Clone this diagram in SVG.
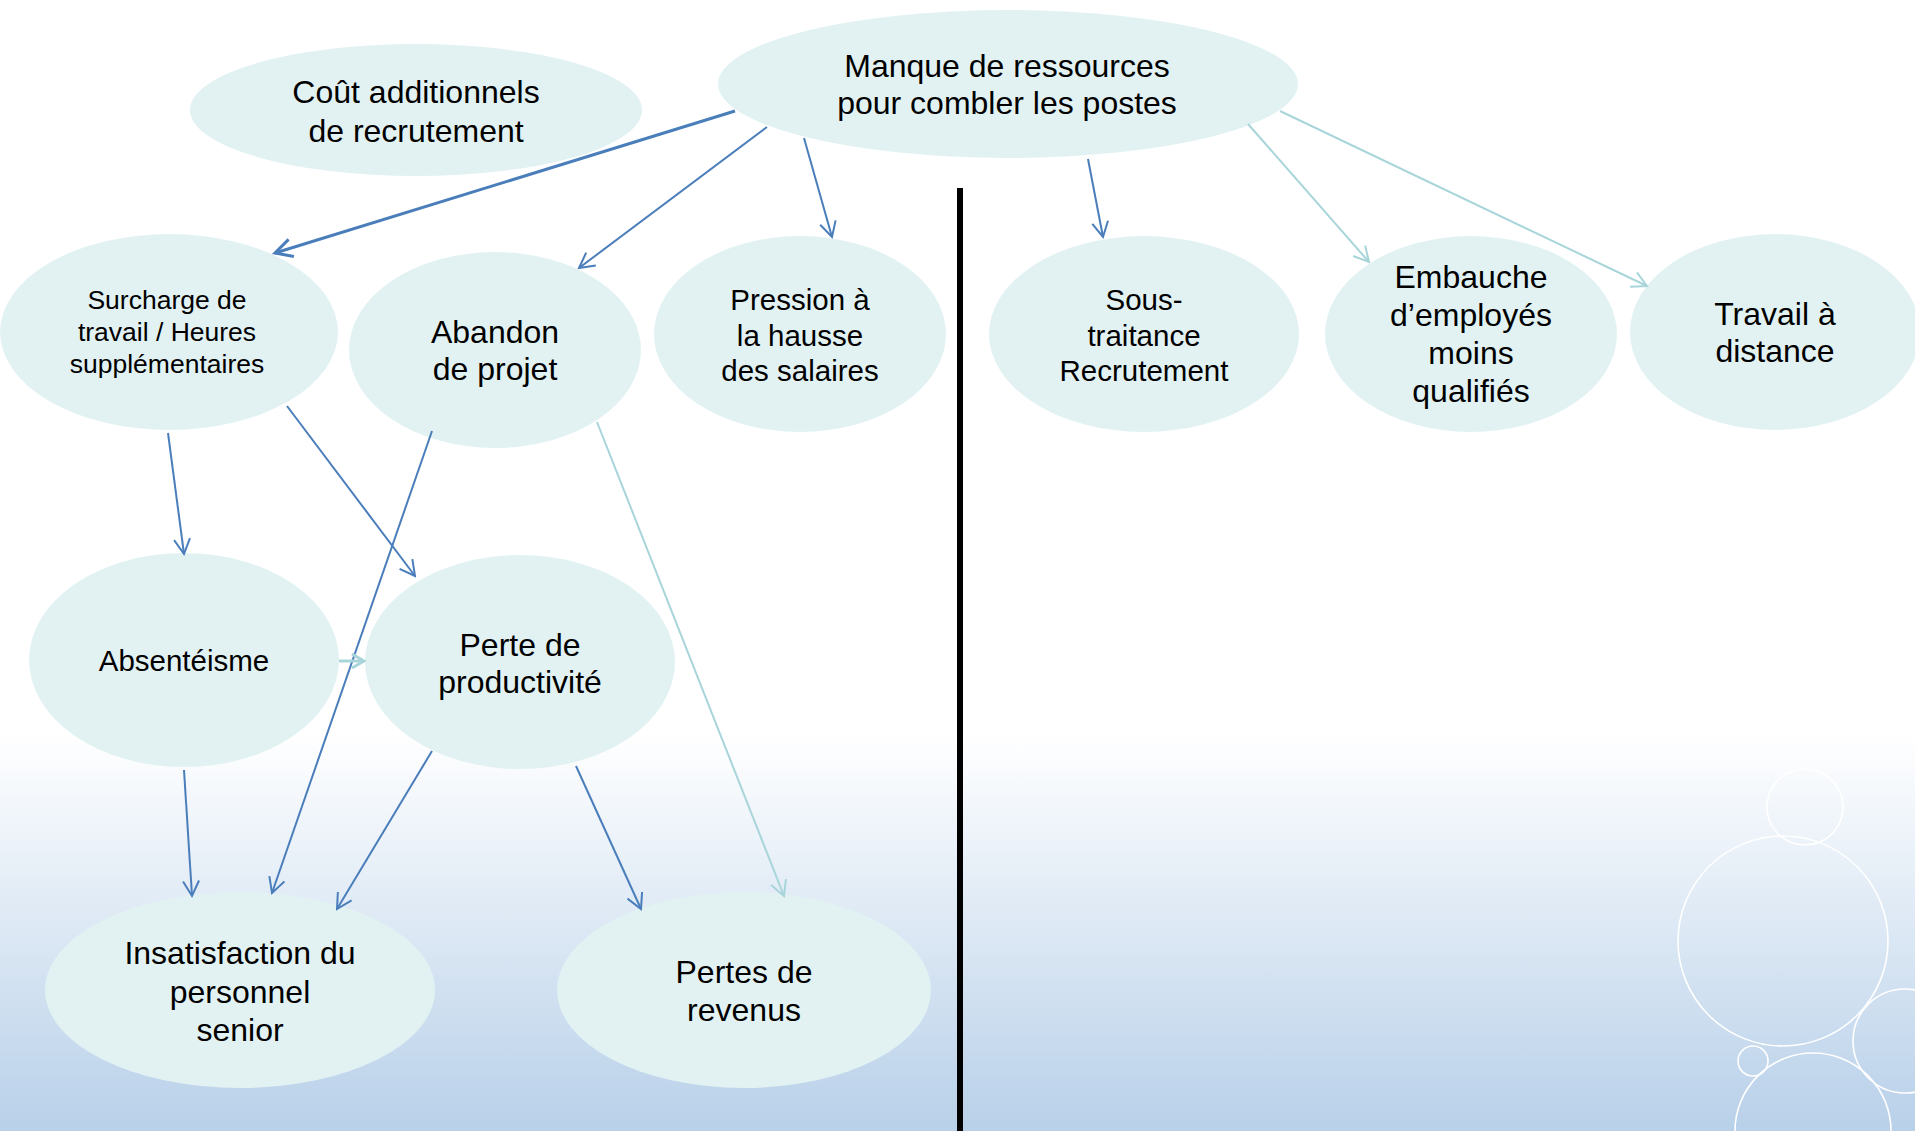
<svg xmlns="http://www.w3.org/2000/svg" width="1915" height="1131" viewBox="0 0 1915 1131">
<defs>
<linearGradient id="bg" x1="0" y1="0" x2="0" y2="1131" gradientUnits="userSpaceOnUse">
<stop offset="0" stop-color="#ffffff"/>
<stop offset="0.65" stop-color="#ffffff"/>
<stop offset="1" stop-color="#b8d0e9"/>
</linearGradient>
<marker id="ad" viewBox="-16 -9 18 18" refX="0" refY="0" markerWidth="18" markerHeight="18" markerUnits="userSpaceOnUse" orient="auto">
<path d="M-15,-8 L0,0 L-15,8" fill="none" stroke="#4a7ebb" stroke-width="2"/>
</marker>
<marker id="adt" viewBox="-19 -11 22 22" refX="0" refY="0" markerWidth="22" markerHeight="22" markerUnits="userSpaceOnUse" orient="auto">
<path d="M-17,-9 L0,0 L-17,9" fill="none" stroke="#4a7ebb" stroke-width="3"/>
</marker>
<marker id="al" viewBox="-16 -9 18 18" refX="0" refY="0" markerWidth="18" markerHeight="18" markerUnits="userSpaceOnUse" orient="auto">
<path d="M-15,-8 L0,0 L-15,8" fill="none" stroke="#a8d5da" stroke-width="2"/>
</marker>
<marker id="alt" viewBox="-16 -9 18 18" refX="0" refY="0" markerWidth="18" markerHeight="18" markerUnits="userSpaceOnUse" orient="auto">
<path d="M-12,-7 L0,0 L-12,7" fill="none" stroke="#a8d5da" stroke-width="3"/>
</marker>
</defs>
<style>
.n{fill:#e2f2f3}
.t{font-family:"Liberation Sans",Arial,sans-serif;font-size:32px;fill:#000;text-anchor:middle}
.s{font-size:26.5px}
.m{font-size:29.5px}
.p{font-size:29.5px}
.d{stroke:#4a7ebb;stroke-width:2;fill:none;marker-end:url(#ad)}
.l{stroke:#a8d5da;stroke-width:2;fill:none;marker-end:url(#al)}
.b{fill:none;stroke:#ffffff;stroke-width:1.6}
</style>
<rect x="0" y="0" width="1915" height="1131" fill="url(#bg)"/>
<g id="bubbles">
<circle class="b" cx="1805" cy="807" r="38"/>
<circle class="b" cx="1783" cy="941" r="105"/>
<circle class="b" cx="1905" cy="1041" r="52"/>
<circle class="b" cx="1753" cy="1061" r="15"/>
<circle class="b" cx="1813" cy="1131" r="78"/>
</g>
<rect id="divider" x="957" y="188" width="6" height="943" fill="#000"/>
<g id="n-cout"><ellipse class="n" cx="416" cy="110" rx="226" ry="66"/>
<text class="t" x="416" y="103">Coût additionnels</text><text class="t" x="416" y="142">de recrutement</text></g>
<g id="n-manque"><ellipse class="n" cx="1008" cy="84" rx="290" ry="74"/>
<text class="t" x="1007" y="77">Manque de ressources</text><text class="t" x="1007" y="114">pour combler les postes</text></g>
<g id="n-surcharge"><ellipse class="n" cx="169" cy="332" rx="169" ry="98"/>
<text class="t s" x="167" y="309">Surcharge de</text><text class="t s" x="167" y="341">travail / Heures</text><text class="t s" x="167" y="373">supplémentaires</text></g>
<g id="n-abandon"><ellipse class="n" cx="495" cy="350" rx="146" ry="98"/>
<text class="t" x="495" y="343">Abandon</text><text class="t" x="495" y="380">de projet</text></g>
<g id="n-pression"><ellipse class="n" cx="800" cy="334" rx="146" ry="98"/>
<text class="t p" x="800" y="310">Pression à</text><text class="t p" x="800" y="346">la hausse</text><text class="t p" x="800" y="381">des salaires</text></g>
<g id="n-sous"><ellipse class="n" cx="1144" cy="334" rx="155" ry="98"/>
<text class="t p" x="1144" y="310">Sous-</text><text class="t p" x="1144" y="346">traitance</text><text class="t p" x="1144" y="381">Recrutement</text></g>
<g id="n-embauche"><ellipse class="n" cx="1471" cy="334" rx="146" ry="98"/>
<text class="t" x="1471" y="288">Embauche</text><text class="t" x="1471" y="326">d’employés</text><text class="t" x="1471" y="364">moins</text><text class="t" x="1471" y="402">qualifiés</text></g>
<g id="n-travail"><ellipse class="n" cx="1775" cy="332" rx="145" ry="98"/>
<text class="t" x="1775" y="325">Travail à</text><text class="t" x="1775" y="362">distance</text></g>
<g id="n-absent"><ellipse class="n" cx="184" cy="660" rx="155" ry="107"/>
<text class="t m" x="184" y="671">Absentéisme</text></g>
<g id="n-perte"><ellipse class="n" cx="520" cy="662" rx="155" ry="107"/>
<text class="t" x="520" y="656">Perte de</text><text class="t" x="520" y="693">productivité</text></g>
<g id="n-insat"><ellipse class="n" cx="240" cy="990" rx="195" ry="98"/>
<text class="t" x="240" y="964">Insatisfaction du</text><text class="t" x="240" y="1003">personnel</text><text class="t" x="240" y="1041">senior</text></g>
<g id="n-revenus"><ellipse class="n" cx="744" cy="990" rx="187" ry="98"/>
<text class="t" x="744" y="983">Pertes de</text><text class="t" x="744" y="1021">revenus</text></g>
<g id="connectors">
<line class="d" x1="735" y1="111" x2="275" y2="253" style="stroke-width:3;marker-end:url(#adt)"/>
<line class="d" x1="767" y1="127" x2="579" y2="268"/>
<line class="d" x1="804" y1="138" x2="832" y2="237"/>
<line class="d" x1="1088" y1="159" x2="1103" y2="237"/>
<line class="l" x1="1248" y1="124" x2="1369" y2="262"/>
<line class="l" x1="1280" y1="111" x2="1647" y2="286"/>
<line class="d" x1="168" y1="433" x2="184" y2="554"/>
<line class="d" x1="287" y1="406" x2="415" y2="576"/>
<line class="d" x1="432" y1="431" x2="272" y2="893"/>
<line class="l" x1="597" y1="422" x2="784" y2="896"/>
<line class="l" x1="339" y1="661" x2="364" y2="661" style="stroke-width:3;marker-end:url(#alt)"/>
<line class="d" x1="184" y1="770" x2="192" y2="896"/>
<line class="d" x1="432" y1="751" x2="337" y2="909"/>
<line class="d" x1="576" y1="766" x2="641" y2="909"/>
</g>
</svg>
